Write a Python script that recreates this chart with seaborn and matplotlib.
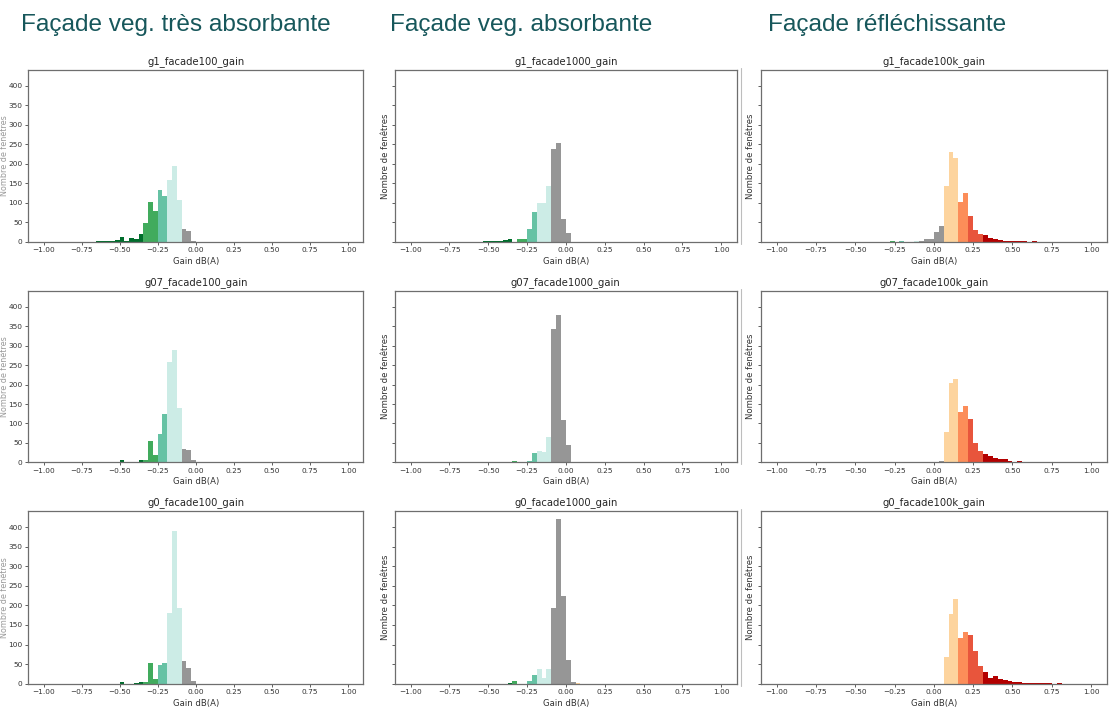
import numpy as np
import pandas as pd
import matplotlib
matplotlib.use("Agg")
import matplotlib.pyplot as plt
from matplotlib.lines import Line2D
import seaborn as sns

# ---------------- data ----------------
BIN_EDGES = [float(v) for v in np.linspace(-1.0, 1.0, 65)]   # 64 bins of 0.03125 dB(A)

COLUMN_HEADERS = ["Façade veg. très absorbante", "Façade veg. absorbante", "Façade réfléchissante"]
PANEL_TITLES = [
    ["g1_facade100_gain", "g1_facade1000_gain", "g1_facade100k_gain"],
    ["g07_facade100_gain", "g07_facade1000_gain", "g07_facade100k_gain"],
    ["g0_facade100_gain", "g0_facade1000_gain", "g0_facade100k_gain"],
]
X_LABEL = "Gain dB(A)"
Y_LABEL = "Nombre de fenêtres"
X_TICKS = [-1.0, -0.75, -0.5, -0.25, 0.0, 0.25, 0.5, 0.75, 1.0]
Y_TICKS = [0, 50, 100, 150, 200, 250, 300, 350, 400]

# counts per bin (64 bins from -1 to 1)
g1_facade100 = [0, 0, 0, 0, 0, 0, 0, 0, 0, 0, 0, 1, 2, 2, 3, 4,
                11, 3, 9, 7, 20, 48, 103, 79, 132, 118, 158, 194, 108, 32, 28, 3,
                0, 0, 0, 0, 0, 0, 0, 0, 0, 0, 0, 0, 0, 0, 0, 0,
                0, 0, 0, 0, 0, 0, 0, 0, 0, 0, 0, 0, 0, 0, 0, 0]
g1_facade1000 = [0, 0, 0, 0, 0, 0, 0, 0, 0, 0, 0, 0, 0, 0, 0, 2,
                 2, 3, 3, 4, 7, 0, 6, 6, 33, 76, 100, 100, 143, 237, 254, 58,
                 23, 0, 0, 0, 0, 0, 0, 0, 0, 0, 0, 0, 0, 0, 0, 0,
                 0, 0, 0, 0, 0, 0, 0, 0, 0, 0, 0, 0, 0, 0, 0, 0]
g1_facade100k = [0, 0, 0, 0, 0, 0, 0, 0, 0, 0, 0, 0, 0, 0, 0, 0,
                 0, 0, 0, 0, 0, 0, 0, 2, 0, 2, 0, 0, 1, 3, 7, 8,
                 26, 40, 143, 231, 214, 103, 124, 67, 29, 19, 16, 9, 7, 4, 3, 1,
                 2, 1, 1, 0, 3, 0, 0, 0, 0, 0, 0, 0, 0, 0, 0, 0]
g07_facade100 = [0, 0, 0, 0, 0, 0, 0, 0, 0, 0, 0, 0, 0, 0, 0, 0,
                 5, 0, 0, 2, 5, 5, 55, 20, 74, 124, 258, 289, 139, 35, 32, 5,
                 0, 0, 0, 0, 0, 0, 0, 0, 0, 0, 0, 0, 0, 0, 0, 0,
                 0, 0, 0, 0, 0, 0, 0, 0, 0, 0, 0, 0, 0, 0, 0, 0]
g07_facade1000 = [0, 0, 0, 0, 0, 0, 0, 0, 0, 0, 0, 0, 0, 0, 0, 0,
                  0, 0, 0, 0, 0, 4, 0, 0, 4, 25, 30, 26, 64, 342, 380, 109,
                  45, 0, 0, 0, 0, 0, 0, 0, 0, 0, 0, 0, 0, 0, 0, 0,
                  0, 0, 0, 0, 0, 0, 0, 0, 0, 0, 0, 0, 0, 0, 0, 0]
g07_facade100k = [0, 0, 0, 0, 0, 0, 0, 0, 0, 0, 0, 0, 0, 0, 0, 0,
                  0, 0, 0, 0, 0, 0, 0, 0, 0, 0, 0, 0, 0, 0, 0, 0,
                  0, 3, 77, 204, 215, 130, 144, 111, 50, 29, 21, 16, 12, 8, 8, 3,
                  0, 3, 1, 1, 0, 0, 0, 0, 0, 0, 0, 0, 0, 0, 0, 0]
g0_facade100 = [0, 0, 0, 0, 0, 0, 0, 0, 0, 0, 0, 0, 0, 0, 0, 0,
                5, 0, 0, 2, 5, 5, 52, 13, 47, 54, 181, 389, 194, 59, 40, 7,
                0, 0, 0, 0, 0, 0, 0, 0, 0, 0, 0, 0, 0, 0, 0, 0,
                0, 0, 0, 0, 0, 0, 0, 0, 0, 0, 0, 0, 0, 0, 0, 0]
g0_facade1000 = [0, 0, 0, 0, 0, 0, 0, 0, 0, 0, 0, 0, 0, 0, 0, 0,
                 0, 0, 0, 0, 2, 6, 0, 0, 7, 22, 37, 15, 38, 193, 420, 223,
                 61, 4, 2, 0, 0, 0, 0, 0, 0, 0, 0, 0, 0, 0, 0, 0,
                 0, 0, 0, 0, 0, 0, 0, 0, 0, 0, 0, 0, 0, 0, 0, 0]
g0_facade100k = [0, 0, 0, 0, 0, 0, 0, 0, 0, 0, 0, 0, 0, 0, 0, 0,
                 0, 0, 0, 0, 0, 0, 0, 0, 0, 0, 0, 0, 0, 0, 0, 0,
                 0, 0, 67, 178, 217, 116, 132, 125, 84, 44, 29, 15, 20, 11, 9, 7,
                 5, 4, 3, 2, 2, 1, 1, 1, 0, 3, 0, 0, 0, 0, 0, 0]

PANEL_COUNTS = [
    [g1_facade100, g1_facade1000, g1_facade100k],
    [g07_facade100, g07_facade1000, g07_facade100k],
    [g0_facade100, g0_facade1000, g0_facade100k],
]

# colour classes (bin centre thresholds, dB(A))
CLASS_BOUNDS = [-0.35, -0.25, -0.2, -0.1, 0.05, 0.15, 0.22, 0.31]
CLASS_COLORS = ["#006d2c", "#41ab5d", "#66c2a4", "#ccece6", "#969696",
                "#fdd49e", "#fc8d59", "#e8553c", "#b30000"]

# ---------------- figure ----------------
sns.set_theme(style="white")
plt.rcParams["font.family"] = ["DejaVu Sans"]

W, H = 1120, 709
fig = plt.figure(figsize=(W / 100, H / 100), dpi=100)

# axes boxes in pixels: columns (left, right), rows (top, bottom)
COLS = [(28.3, 363.3), (395.0, 736.7), (761.0, 1106.7)]
ROWS = [(70.0, 241.7), (291.0, 462.3), (511.0, 683.7)]
YLABEL_RIGHT = [8.5, 390.0, 755.0]
HEADER_X = [21, 390, 768]
HEADER_BASELINE = 30.5

edges = np.asarray(BIN_EDGES)
centers = 0.5 * (edges[:-1] + edges[1:])
gmax = max(max(c) for row in PANEL_COUNTS for c in row)
spine_col = "#6e6e6e"

for j, (x0, x1) in enumerate(COLS):
    for i, (y0, y1) in enumerate(ROWS):
        ax = fig.add_axes([x0 / W, 1 - y1 / H, (x1 - x0) / W, (y1 - y0) / H])
        df = pd.DataFrame({"gain": centers, "n": np.asarray(PANEL_COUNTS[i][j], dtype=float)})
        sns.histplot(data=df, x="gain", weights="n", bins=BIN_EDGES, ax=ax,
                     stat="count", alpha=1.0, linewidth=0, color="#969696")
        for p in ax.patches:
            c = p.get_x() + p.get_width() / 2
            p.set_facecolor(CLASS_COLORS[int(np.digitize(c, CLASS_BOUNDS))])
            p.set_edgecolor("none")
        ax.set_xlim(-1.1, 1.1)
        ax.set_ylim(0, gmax * 1.05)
        ax.set_xticks(X_TICKS)
        ax.set_xticklabels([f"{t:.2f}".replace("-", "\u2212") for t in X_TICKS])
        ax.set_yticks(Y_TICKS)
        if j == 0:
            ax.set_yticklabels([str(t) for t in Y_TICKS])
        else:
            ax.set_yticklabels([])
        ax.tick_params(axis="both", which="major", direction="out", length=2.5,
                       width=0.6, color="#444444", labelsize=5.3,
                       labelcolor="#333333", pad=1.5, bottom=True, left=True)
        for s in ax.spines.values():
            s.set_visible(True)
            s.set_color(spine_col)
            s.set_linewidth(0.9)
        ax.set_title(PANEL_TITLES[i][j], fontsize=7.2, color="#262626", pad=4)
        ax.set_xlabel(X_LABEL, fontsize=6.1, color="#333333", labelpad=2.5)
        ax.set_ylabel(Y_LABEL, fontsize=6.1 if j else 5.8,
                      color="#333333" if j else "#9a9a9a")
        ax.yaxis.set_label_coords((YLABEL_RIGHT[j] - x0) / (x1 - x0), 0.5)
        ax.grid(False)

    fig.text(HEADER_X[j] / W, 1 - HEADER_BASELINE / H, COLUMN_HEADERS[j],
             fontsize=17.6, color="#17575b", family=["Liberation Sans", "DejaVu Sans"],
             ha="left", va="baseline")

# thin border line at the left of the third column images
for (y0, y1) in ROWS:
    fig.add_artist(Line2D([740.5 / W, 740.5 / W], [1 - (y1 + 2) / H, 1 - (y0 - 2) / H],
                          color="#bdbdbd", lw=0.8))

fig.savefig("out.png", dpi=100, facecolor="white")
